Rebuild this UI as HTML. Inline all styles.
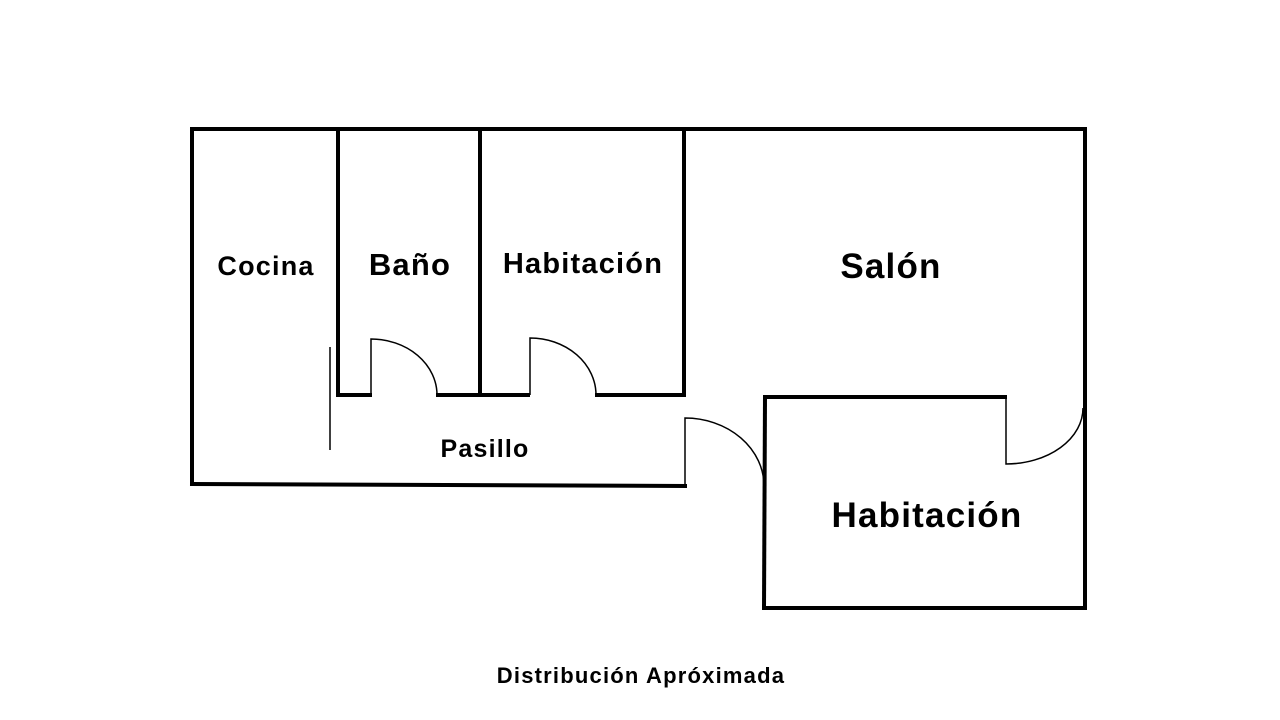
<!DOCTYPE html>
<html><head><meta charset="utf-8"><style>html,body{margin:0;padding:0;background:#fff}svg{display:block}text{font-family:"Liberation Sans",sans-serif;font-weight:bold;fill:#000;text-anchor:middle;letter-spacing:1.2px}</style></head>
<body>
<svg width="1280" height="720" viewBox="0 0 1280 720" xmlns="http://www.w3.org/2000/svg">
<g stroke="#000" stroke-width="4" fill="none" stroke-linecap="square">
<line x1="192" y1="129" x2="1085" y2="129"/>
<line x1="192" y1="129" x2="192" y2="484"/>
<line x1="192" y1="484" x2="685" y2="486"/>
<line x1="1085" y1="129" x2="1085" y2="608"/>
<line x1="338" y1="129" x2="338" y2="395"/>
<line x1="480" y1="129" x2="480" y2="395"/>
<line x1="684" y1="129" x2="684" y2="395"/>
<line x1="338" y1="395" x2="370" y2="395"/>
<line x1="438" y1="395" x2="528" y2="395"/>
<line x1="597" y1="395" x2="684" y2="395"/>
<line x1="766" y1="397" x2="1005" y2="397"/>
<line x1="765" y1="397" x2="764" y2="608"/>
<line x1="765" y1="608" x2="1085" y2="608"/>
</g>
<g stroke="#000" stroke-width="1.5" fill="none">
<path d="M371 395 V339 A66 56 0 0 1 437 395"/>
<path d="M530 395 V338 A66 57 0 0 1 596 395"/>
<path d="M685 486 V418 A79 68 0 0 1 764 486"/>
<path d="M1006 397 V464 A77 56 0 0 0 1083 408"/>
<line x1="330" y1="347" x2="330" y2="450"/>
</g>
<text x="266" y="275" font-size="27">Cocina</text>
<text x="410" y="275" font-size="31">Baño</text>
<text x="583" y="273" font-size="29">Habitación</text>
<text x="891" y="278" font-size="35">Salón</text>
<text x="485" y="457" font-size="25">Pasillo</text>
<text x="927" y="527" font-size="35">Habitación</text>
<text x="641" y="683" font-size="22">Distribución Apróximada</text>
</svg>
</body></html>
